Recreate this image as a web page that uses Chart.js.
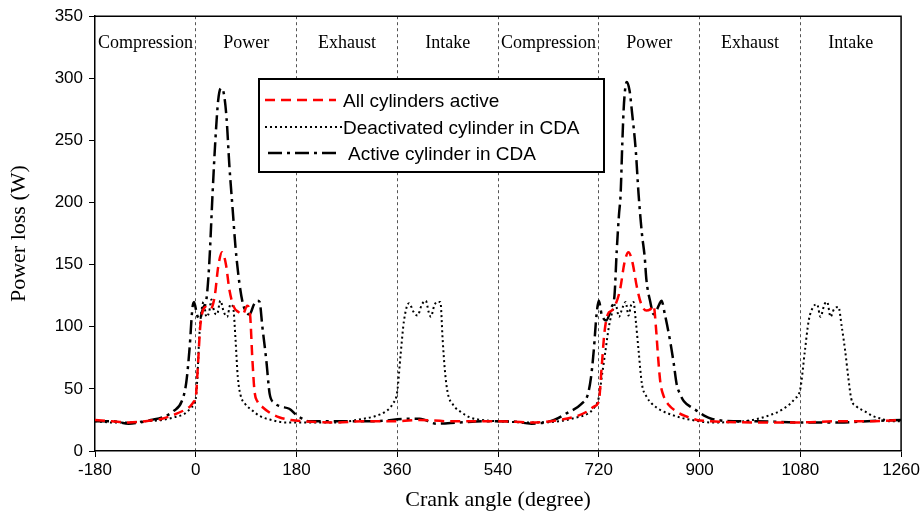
<!DOCTYPE html>
<html>
<head>
<meta charset="utf-8">
<script src="https://cdn.jsdelivr.net/npm/chart.js@4"></script>
<style>
  body { margin: 0; background: #fff; }
  canvas { display: block; }
</style>
</head>
<body>
<canvas id="powerChart" width="923" height="511"></canvas>
<script>
// Crank angle ticks and stroke phases
const xTicks = [-180, 0, 180, 360, 540, 720, 900, 1080, 1260];
const phases = ['Compression', 'Power', 'Exhaust', 'Intake', 'Compression', 'Power', 'Exhaust', 'Intake'];

// All cylinders active (red dashed)
const allActiveX = [-180, -150, -120, -90, -60, -40, -20, -10, -3, 0, 4, 8, 12, 18, 26, 34, 40, 47, 54, 60, 68, 76, 84, 92, 97, 101, 105, 110, 120, 135, 150, 170, 190,
  250, 300, 360, 400, 450, 500, 540, 600, 650, 680, 700, 712, 720, 725, 730, 736, 743, 750, 758, 766, 773, 780, 788, 796, 805, 812, 818, 822, 826, 830, 836, 845, 858, 875, 895, 920, 1000, 1080, 1150, 1200, 1260];
const allActiveY = [25, 24, 23, 24, 26, 29, 33, 36, 40, 43, 70, 100, 112, 116, 114, 125, 148, 160, 150, 130, 116, 112, 110, 117, 110, 75, 48, 40, 35, 30, 27, 25, 24,
  23, 24, 24, 25, 24, 24, 24, 23, 25, 28, 32, 36, 40, 67, 95, 110, 113, 118, 130, 152, 160, 152, 132, 118, 113, 114, 117, 100, 75, 55, 44, 37, 32, 28, 25, 24, 23, 23, 24, 24, 25];

// Deactivated cylinder in CDA (dotted)
const deactX = [-180, -150, -120, -90, -60, -40, -20, -8, 0, 3, 6, 9, 14, 19, 24, 28, 33, 38, 44, 50, 56, 62, 67, 71, 75, 80, 88, 100, 115, 135, 160, 180,
  250, 300, 320, 340, 352, 360, 366, 372, 381, 389, 396, 404, 411, 416, 420, 426, 431, 437, 441, 445, 450, 460, 475, 490, 510, 540,
  600, 650, 680, 700, 712, 720, 726, 732, 738, 743, 750, 756, 762, 768, 773, 778, 782, 786, 791, 797, 805, 815, 830, 845, 865, 886, 920,
  980, 1020, 1050, 1070, 1080, 1088, 1095, 1103, 1110, 1116, 1123, 1128, 1134, 1140, 1148, 1154, 1160, 1166, 1171, 1180, 1195, 1210, 1225, 1240, 1260];
const deactY = [24, 23, 23, 24, 25, 27, 30, 35, 42, 60, 90, 108, 120, 108, 112, 122, 112, 110, 121, 112, 108, 118, 115, 90, 60, 45, 38, 33, 28, 25, 23, 23,
  23, 26, 28, 32, 38, 48, 78, 105, 119, 112, 109, 118, 121, 112, 108, 117, 120, 120, 90, 65, 47, 37, 31, 27, 25, 24,
  23, 24, 27, 30, 35, 43, 62, 81, 100, 110, 118, 108, 115, 120, 109, 118, 120, 105, 81, 54, 44, 38, 33, 30, 27, 25, 23,
  24, 28, 34, 42, 50, 80, 105, 116, 118, 108, 118, 120, 108, 114, 116, 100, 81, 58, 42, 36, 32, 28, 26, 24, 24];

// Active cylinder in CDA (dash-dot)
const activeCdaX = [-180, -150, -120, -100, -80, -60, -40, -25, -17, -11, -6, -3, 2, 7, 13, 19, 24, 30, 35, 40, 45, 50, 55, 60, 66, 71, 78, 84, 90, 96, 104, 110, 114, 119, 126, 132, 140, 150, 167, 180, 190, 200,
  260, 320, 380, 400, 430, 470, 520, 560, 600, 640, 661, 689, 700, 706, 711, 716, 720, 725, 733, 743, 748, 752, 756, 759, 762, 765, 770, 775, 779, 786, 791, 797, 802, 805, 812, 818, 823, 828, 832, 838, 848, 854, 859, 866, 872, 886, 900, 910, 921,
  960, 1000, 1080, 1150, 1200, 1260];
const activeCdaY = [24, 24, 22, 23, 25, 27, 32, 40, 55, 83, 115, 120, 110, 106, 115, 122, 150, 207, 250, 282, 292, 288, 268, 230, 194, 164, 135, 119, 112, 110, 118, 121, 120, 100, 73, 46, 39, 36, 34, 29, 26, 24,
  24, 24, 26, 26, 22, 23, 24, 24, 22, 25, 30, 38, 45, 59, 81, 110, 121, 110, 105, 116, 125, 161, 190, 207, 248, 280, 297, 290, 274, 242, 207, 175, 156, 138, 120, 110, 113, 118, 121, 110, 87, 70, 54, 45, 40, 35, 31, 28, 26,
  24, 24, 23, 23, 24, 25];

const toPoints = (xs, ys) => xs.map((x, i) => ({ x: x, y: ys[i] }));

const redDash = [10, 6];
const dotDash = [2, 3];
const dashDot = [14, 5, 3, 5];

// Frame, stroke phase names and the boxed legend
const decorPlugin = {
  id: 'decor',
  afterDraw(chart) {
    const { ctx, chartArea: a, scales: { x } } = chart;
    ctx.save();
    ctx.strokeStyle = '#000';
    ctx.lineWidth = 1.5;
    ctx.beginPath();
    ctx.moveTo(a.left, a.top);
    ctx.lineTo(a.right, a.top);
    ctx.lineTo(a.right, a.bottom);
    ctx.stroke();

    ctx.fillStyle = '#000';
    ctx.font = '18px "Liberation Serif"';
    ctx.textAlign = 'center';
    ctx.textBaseline = 'alphabetic';
    phases.forEach((p, i) => {
      const cx = (x.getPixelForValue(xTicks[i]) + x.getPixelForValue(xTicks[i + 1])) / 2;
      ctx.fillText(p, cx, a.top + 32);
    });

    // legend box
    const bx = 259, by = 79, bw = 345, bh = 93;
    ctx.fillStyle = '#fff';
    ctx.fillRect(bx, by, bw, bh);
    ctx.lineWidth = 2;
    ctx.strokeStyle = '#000';
    ctx.strokeRect(bx, by, bw, bh);

    const rows = [
      { label: 'All cylinders active', color: 'red', dash: redDash, x1: 265, x2: 336, tx: 343, y: 100, w: 2.5 },
      { label: 'Deactivated cylinder in CDA', color: '#000', dash: dotDash, x1: 265, x2: 342, tx: 343, y: 127, w: 2 },
      { label: 'Active cylinder in CDA', color: '#000', dash: dashDot, x1: 268, x2: 341, tx: 348, y: 153, w: 2.5 }
    ];
    ctx.font = '19px "Liberation Sans"';
    ctx.textAlign = 'left';
    rows.forEach(r => {
      ctx.beginPath();
      ctx.setLineDash(r.dash);
      ctx.strokeStyle = r.color;
      ctx.lineWidth = r.w;
      ctx.moveTo(r.x1, r.y);
      ctx.lineTo(r.x2, r.y);
      ctx.stroke();
      ctx.setLineDash([]);
      ctx.fillStyle = '#000';
      ctx.fillText(r.label, r.tx, r.y + 7);
    });
    ctx.restore();
  }
};

Chart.defaults.font.family = '"Liberation Sans", Arial, sans-serif';
Chart.defaults.color = '#000';

new Chart(document.getElementById('powerChart').getContext('2d'), {
  type: 'line',
  data: {
    datasets: [
      {
        label: 'All cylinders active',
        data: toPoints(allActiveX, allActiveY),
        borderColor: 'red',
        borderWidth: 2.5,
        borderDash: redDash,
        pointRadius: 0,
        cubicInterpolationMode: 'monotone',
        order: 1
      },
      {
        label: 'Deactivated cylinder in CDA',
        data: toPoints(deactX, deactY),
        borderColor: '#000',
        borderWidth: 2,
        borderDash: dotDash,
        pointRadius: 0,
        cubicInterpolationMode: 'monotone',
        order: 2
      },
      {
        label: 'Active cylinder in CDA',
        data: toPoints(activeCdaX, activeCdaY),
        borderColor: '#000',
        borderWidth: 2.5,
        borderDash: dashDot,
        pointRadius: 0,
        cubicInterpolationMode: 'monotone',
        order: 3
      }
    ]
  },
  options: {
    responsive: false,
    animation: false,
    layout: { padding: { left: 0, top: 16, right: 20, bottom: 0 } },
    plugins: {
      legend: { display: false },
      tooltip: { enabled: false }
    },
    scales: {
      x: {
        type: 'linear',
        min: -180,
        max: 1260,
        afterBuildTicks: s => { s.ticks = xTicks.map(v => ({ value: v })); },
        afterFit: s => { s.height = 60; },
        ticks: { font: { size: 17 }, padding: 3, maxRotation: 0, callback: v => String(v) },
        grid: {
          color: c => (c.tick && (c.tick.value === -180 || c.tick.value === 1260)) ? 'rgba(0,0,0,0)' : '#555',
          lineWidth: 1,
          tickColor: '#000',
          tickLength: 6
        },
        border: { color: '#000', width: 1.5, dash: [3, 3] },
        title: {
          display: true,
          text: 'Crank angle (degree)',
          font: { family: '"Liberation Serif"', size: 22, lineHeight: 1 },
          padding: { top: 0, bottom: 0 }
        }
      },
      y: {
        min: 0,
        max: 350,
        afterFit: s => { s.width = 95; },
        ticks: { stepSize: 50, font: { size: 17 }, padding: 6 },
        grid: { drawOnChartArea: false, tickColor: '#000', tickLength: 6 },
        border: { color: '#000', width: 1.5 },
        title: {
          display: true,
          text: 'Power loss (W)',
          font: { family: '"Liberation Serif"', size: 22, lineHeight: 1 },
          padding: { top: 8, bottom: 0 }
        }
      }
    }
  },
  plugins: [decorPlugin]
});
</script>
</body>
</html>
